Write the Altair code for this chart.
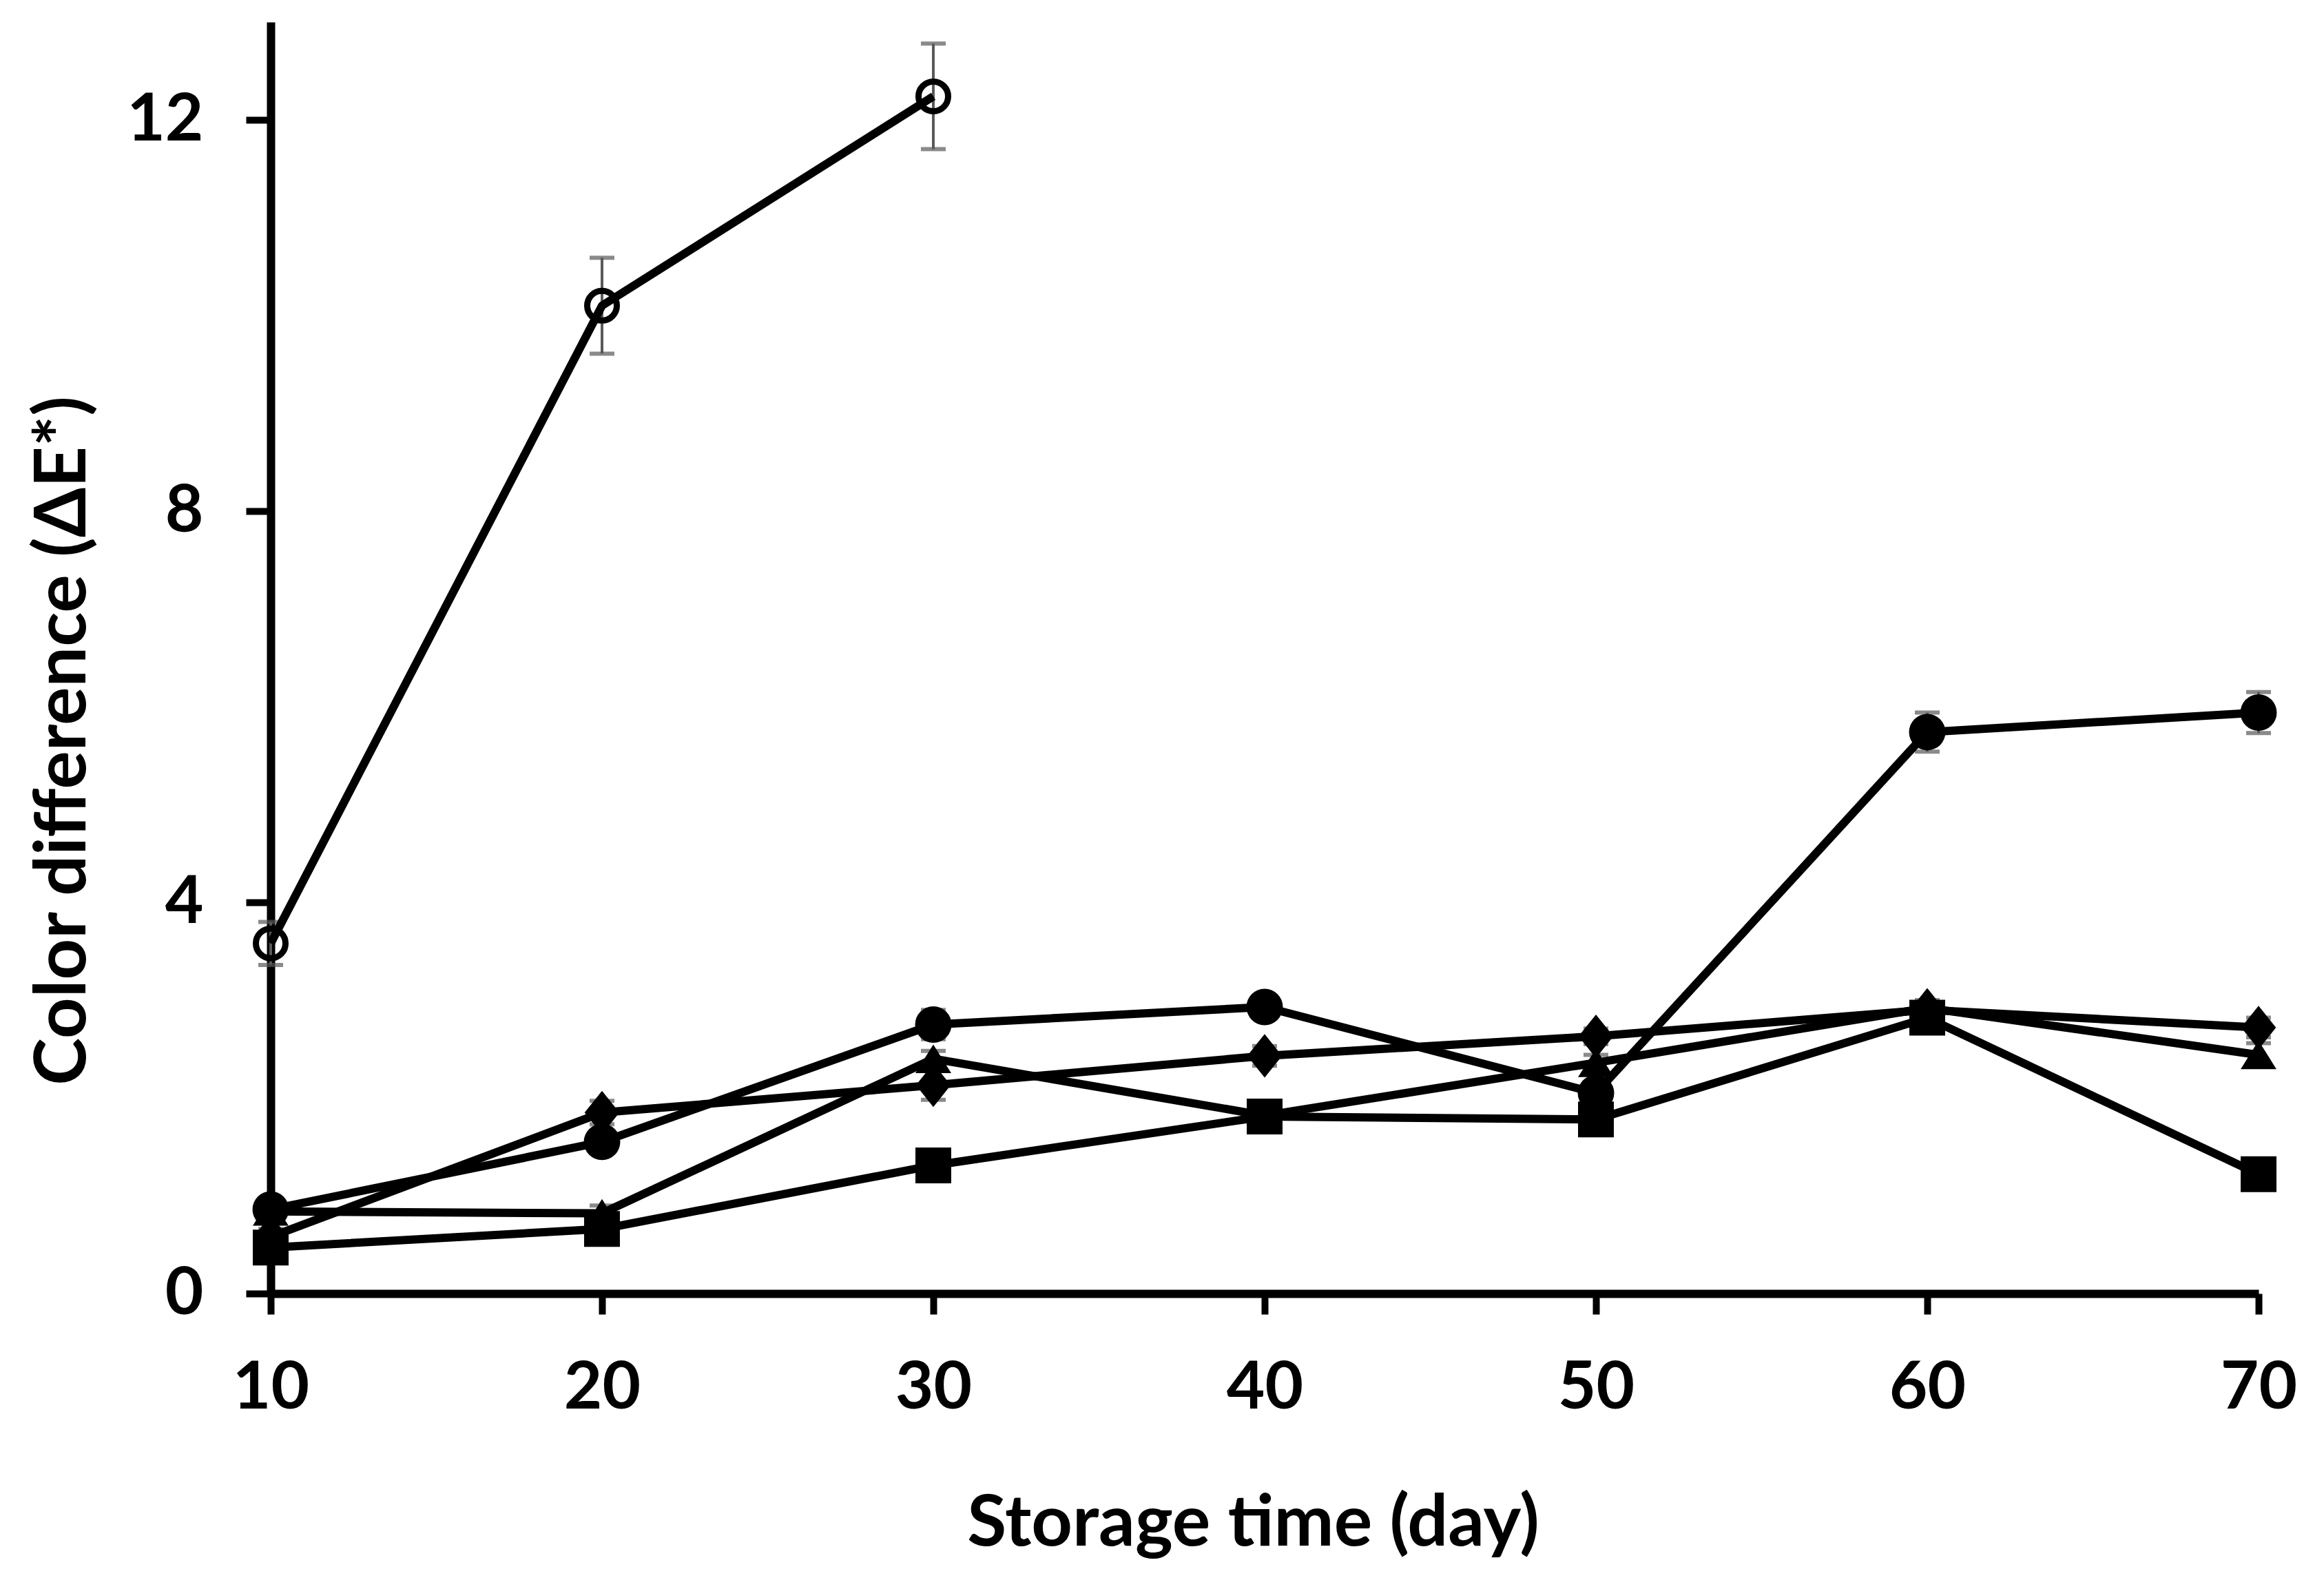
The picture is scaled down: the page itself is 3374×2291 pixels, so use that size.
import altair as alt
import pandas as pd

# ---- data ----
days = [10, 20, 30, 40, 50, 60, 70]

open_circle_days = [10, 20, 30]
open_circle = [3.58, 10.10, 12.24]
open_circle_err = [0.22, 0.49, 0.54]

filled_circle = [0.86, 1.55, 2.75, 2.93, 2.05, 5.74, 5.94]
filled_circle_err = [0.10, 0.08, 0.15, 0.08, 0.08, 0.20, 0.21]

diamond = [0.58, 1.85, 2.13, 2.43, 2.63, 2.90, 2.72]
diamond_err = [0.08, 0.12, 0.15, 0.10, 0.08, 0.08, 0.10]

triangle = [0.84, 0.82, 2.40, 1.82, 2.36, 2.92, 2.44]
triangle_err = [0.08, 0.08, 0.08, 0.08, 0.08, 0.08, 0.12]

square = [0.47, 0.66, 1.31, 1.81, 1.78, 2.82, 1.22]
square_err = [0.05, 0.05, 0.05, 0.05, 0.05, 0.05, 0.05]

x_ticks = [10, 20, 30, 40, 50, 60, 70]
y_ticks = [0, 4, 8, 12]

FONT = "Lato"

series_specs = [
    ("open", open_circle_days, open_circle, open_circle_err),
    ("filled", days, filled_circle, filled_circle_err),
    ("diamond", days, diamond, diamond_err),
    ("triangle", days, triangle, triangle_err),
    ("square", days, square, square_err),
]

rows = []
for name, d, v, e in series_specs:
    for di, vi, ei in zip(d, v, e):
        rows.append({"series": name, "day": di, "value": vi,
                     "lo": vi - ei, "hi": vi + ei})
df = pd.DataFrame(rows)

xs = alt.Scale(domain=[10, 70], nice=False, zero=False)
ys = alt.Scale(domain=[0, 13], nice=False)

x_axis = alt.Axis(
    values=x_ticks, title="Storage time (day)", format="d", labelFlush=False,
    titleBaseline="alphabetic", titleY=365, titleX=1426, titleAnchor="middle")
y_axis = alt.Axis(
    values=y_ticks, title="Color difference (ΔE*)", format="d", labelFlush=False,
    titleAngle=270, titleBaseline="alphabetic", titleX=-270, titleY=1043,
    titleAlign="center")


def X(field):
    return alt.X(field, scale=xs, axis=x_axis)


def Y(field):
    return alt.Y(field, scale=ys, axis=y_axis)


base = alt.Chart(df)

err_rule = base.mark_rule(color="#595959", strokeWidth=4).encode(
    x=X("day:Q"), y=Y("lo:Q"), y2="hi:Q", detail="series:N")
err_cap_lo = base.mark_tick(color="#595959", orient="horizontal", size=36,
                            thickness=6).encode(x=X("day:Q"), y=Y("lo:Q"))
err_cap_hi = base.mark_tick(color="#595959", orient="horizontal", size=36,
                            thickness=6).encode(x=X("day:Q"), y=Y("hi:Q"))

lines = base.mark_line(color="black", strokeWidth=12, strokeJoin="round").encode(
    x=X("day:Q"), y=Y("value:Q"), detail="series:N", order="day:Q")

diamond_path = "M-0.8,0L0,-1L0.8,0L0,1Z"
triangle_path = "M0,-0.8L1,0.8L-1,0.8Z"


def pts(name, **mark):
    return base.transform_filter(alt.datum.series == name).mark_point(
        opacity=1, **mark).encode(x=X("day:Q"), y=Y("value:Q"))


p_open = pts("open", shape="circle", size=1850, filled=False,
             stroke="black", strokeWidth=9)
p_filled = pts("filled", shape="circle", size=2800, filled=True, color="black")
p_diamond = pts("diamond", shape=diamond_path, size=4000, filled=True, color="black")
p_triangle = pts("triangle", shape=triangle_path, size=2700, filled=True, color="black")
p_square = pts("square", shape="square", size=2700, filled=True, color="black")

chart = alt.layer(
    err_rule, err_cap_lo, err_cap_hi, lines,
    p_open, p_filled, p_diamond, p_triangle, p_square
).properties(
    width=2886, height=1846,
    autosize=alt.AutoSizeParams(type="none"),
    padding={"left": 393, "top": 32, "right": 95, "bottom": 413},
    background="white",
).configure_view(stroke=None).configure_axis(
    grid=False,
    domainColor="black", domainWidth=12,
    tickColor="black", tickWidth=10,
    labelFont=FONT, labelFontWeight="bold", labelFontSize=96, labelColor="black",
    titleFont=FONT, titleFontWeight="bold", titleFontSize=104, titleColor="black",
).configure_axisX(
    tickSize=30, labelPadding=60,
).configure_axisY(
    tickSize=36, labelPadding=62,
)

chart.save("out.html", embed_options={"renderer": "svg", "actions": False})
